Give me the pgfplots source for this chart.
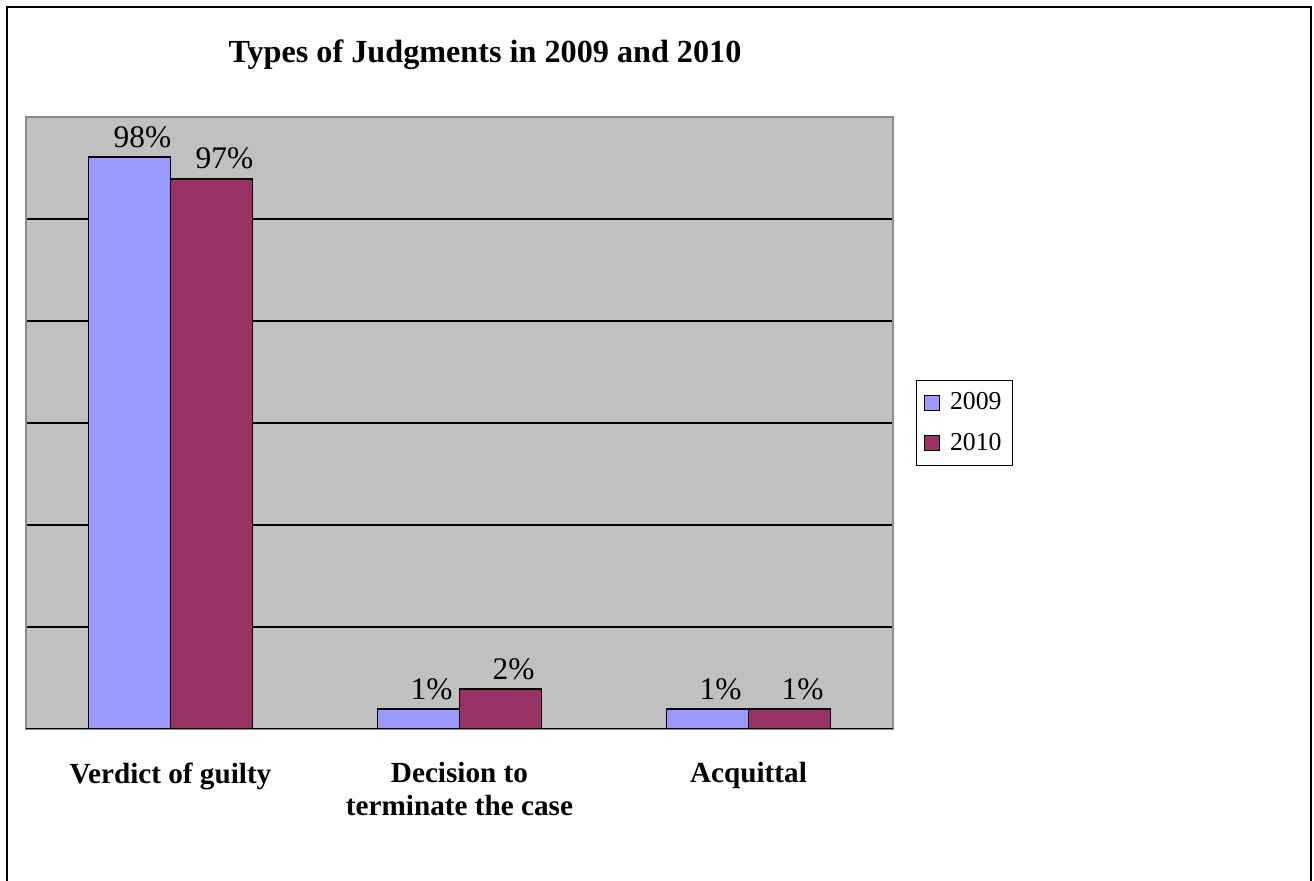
\documentclass[border=0pt]{standalone}
\usepackage{pgfplots}
\pgfplotsset{compat=1.18}
\usepackage{fontspec}
\setmainfont{Liberation Serif}
\definecolor{bg}{RGB}{192,192,192}
\definecolor{c2009}{RGB}{153,153,255}
\definecolor{c2010}{RGB}{153,51,102}
\begin{document}
\begin{tikzpicture}
% page is 1314x881 px at 0.5pt per px
\useasboundingbox (0,0) rectangle (657pt,-440.5pt);
\draw[line width=1pt] (3.5pt,-440.5pt) -- (3.5pt,-3.5pt) -- (655.5pt,-3.5pt) -- (655.5pt,-440.5pt);
\node[anchor=base, font=\bfseries\fontsize{16.1}{18}\selectfont] at (242.5pt,-31.5pt) {Types of Judgments in 2009 and 2010};
\begin{axis}[
    at={(13pt,-364.5pt)}, anchor=south west,
    scale only axis,
    width=433.5pt, height=306pt,
    ybar=0pt, bar width=41pt,
    xmin=0.5, xmax=3.5,
    ymin=0, ymax=600,
    ytick={0,100,...,500},
    yticklabels={},
    ymajorgrids,
    grid style={black, line width=0.6pt},
    major y tick style={draw=none},
    xtick={1,2,3},
    xticklabels={\raisebox{-3.5pt}{Verdict of guilty}, Decision to\\terminate the case, Acquittal},
    xticklabel style={align=center, anchor=north, yshift=-9pt,
        font=\bfseries\fontsize{14.6}{16.5}\selectfont},
    major x tick style={draw=none},
    extra x ticks={0.5,1.5,2.5,3.5},
    extra x tick labels={},
    extra x tick style={tick style={draw=black, line width=0.6pt}, major tick length=4.5pt, xmajorgrids=false},
    xtick pos=bottom, tick align=outside,
    axis background/.style={fill=bg},
    axis line style={draw=gray!90, line width=0.8pt},
    every axis plot/.append style={draw=black, line width=0.8pt},
    point meta=explicit symbolic,
    nodes near coords,
    every node near coord/.append style={font=\fontsize{15.7}{17}\selectfont, xshift=6.5pt, yshift=1pt},
    legend style={at={(1,0.5)}, anchor=west, xshift=11.5pt, draw=black, line width=0.6pt,
        font=\fontsize{12.9}{15}\selectfont, row sep=6pt, inner xsep=3.5pt, inner ysep=4pt,
        /tikz/column 1/.style={column sep=3pt}},
    legend cell align=left,
    legend image code/.code={\draw[#1, line width=0.7pt] (0pt,-3.75pt) rectangle (7.5pt,3.75pt);},
]
\addplot[fill=c2009] coordinates {(1,560.8) [98\%] (2,19.6) [1\%] (3,19.6) [1\%]};
\addlegendentry{2009}
\addplot[fill=c2010] coordinates {(1,539.5) [97\%] (2,39.2) [2\%] (3,19.6) [1\%]};
\addlegendentry{2010}
\draw[black, line width=0.6pt] (rel axis cs:0,0) -- (rel axis cs:1,0);
\end{axis}
\end{tikzpicture}
\end{document}
